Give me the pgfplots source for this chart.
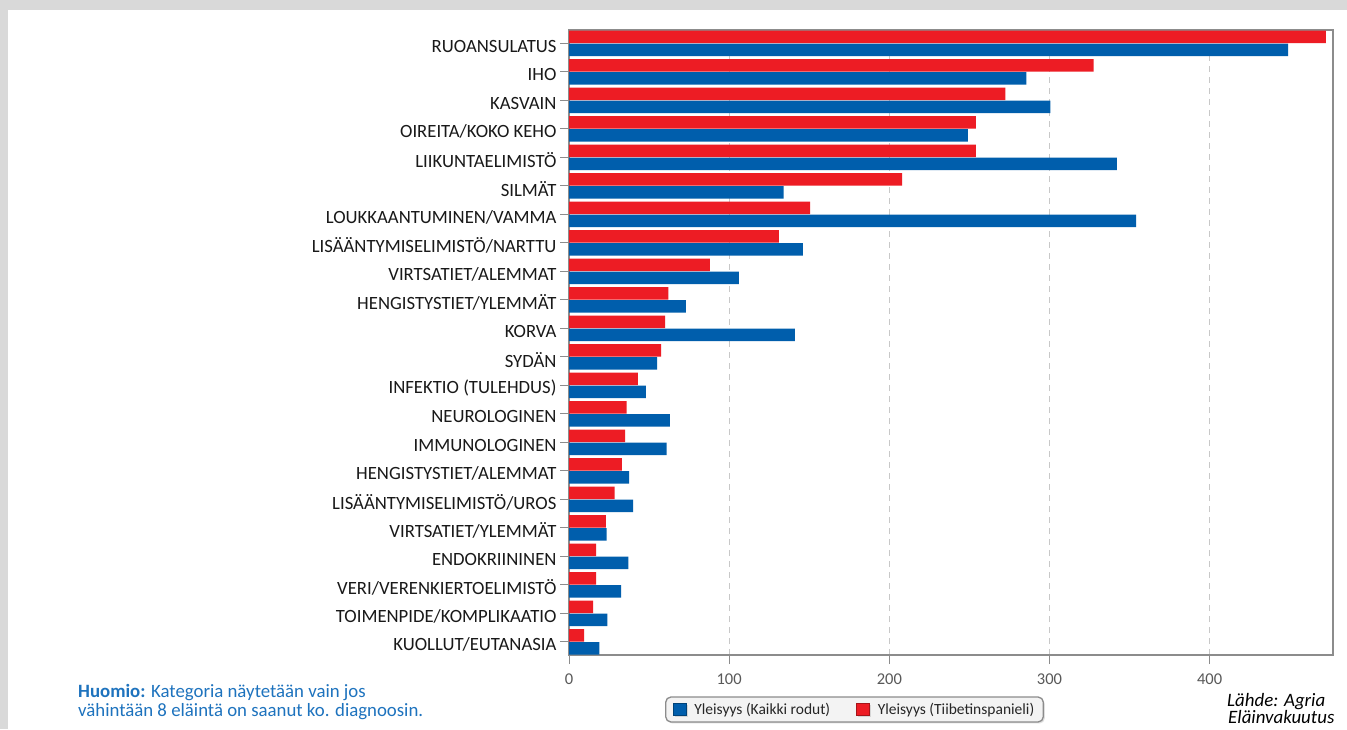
\documentclass[border=0pt]{standalone}
\usepackage{fontspec}
\setmainfont{Carlito}
\usepackage{pgfplots}
\pgfplotsset{compat=1.18}
\usetikzlibrary{shadows}
\definecolor{barblue}{RGB}{0,94,172}
\definecolor{barred}{RGB}{237,28,36}
\definecolor{framegray}{RGB}{217,217,217}
\definecolor{noteblue}{RGB}{30,115,190}
\definecolor{axgray}{RGB}{140,140,140}
\definecolor{gridgray}{RGB}{200,200,200}
\definecolor{ticktext}{RGB}{89,89,89}
\definecolor{legfill}{RGB}{243,243,243}

\begin{document}
\begin{tikzpicture}[x=1pt,y=1pt]
\fill[framegray] (0,0) rectangle (1347,729);
\fill[white] (8,0) rectangle (1347,719);
\begin{axis}[
    at={(569pt,74pt)}, anchor=south west,
    scale only axis, width=764pt, height=625pt,
    xbar, bar width=12.5pt,
    xmin=0, xmax=477,
    ymin=-0.46, ymax=21.47,
    ytick={0,...,21},
    yticklabels={KUOLLUT/EUTANASIA, TOIMENPIDE/KOMPLIKAATIO, VERI/VERENKIERTOELIMISTÖ,
        ENDOKRIININEN, VIRTSATIET/YLEMMÄT, LISÄÄNTYMISELIMISTÖ/UROS,
        HENGISTYSTIET/ALEMMAT, IMMUNOLOGINEN, NEUROLOGINEN, INFEKTIO (TULEHDUS),
        SYDÄN, KORVA, HENGISTYSTIET/YLEMMÄT, VIRTSATIET/ALEMMAT,
        LISÄÄNTYMISELIMISTÖ/NARTTU, LOUKKAANTUMINEN/VAMMA, SILMÄT,
        LIIKUNTAELIMISTÖ, OIREITA/KOKO KEHO, KASVAIN, IHO, RUOANSULATUS},
    xtick={0,100,200,300,400},
    /pgf/number format/assume math mode=true,
    tick align=outside,
    major tick length=9pt,
    every tick/.style={axgray, line width=1pt},
    yticklabel style={font=\fontsize{18.7}{20}\selectfont, text=black!90, yshift=-3pt},
    xticklabel style={font=\fontsize{16.5}{18}\selectfont, text=ticktext, yshift=-6pt},
    xmajorgrids=true,
    major grid style={gridgray, line width=1pt, dash pattern=on 6pt off 5pt},
    axis line style={axgray, line width=1.3pt},
    tick pos=left,
    legend style={at={(0.3737,-0.0872)}, anchor=center, legend columns=2,
        draw=axgray, line width=1.3pt, rounded corners=5pt, fill=legfill,
        inner xsep=7pt, inner ysep=4pt,
        nodes={inner sep=2pt},
        font=\fontsize{15.5}{17}\selectfont, text=black!85,
        drop shadow={opacity=0.25, shadow xshift=1.5pt, shadow yshift=-1.5pt},
        /tikz/every odd column/.append style={column sep=6pt},
        /tikz/every even column/.append style={column sep=24pt}},
]
\addplot[draw=none, fill=barblue, bar shift=-6.5pt,
    legend image code/.code={\draw[sharp corners, fill=barblue, draw=barblue!70!black, line width=0.6pt] (0pt,-6pt) rectangle (13pt,6pt);}]
coordinates {
    (19,0) (24,1) (32.5,2) (37,3) (23.5,4) (40,5) (37.5,6) (61,7) (63,8) (48,9)
    (55,10) (141,11) (73,12) (106,13) (146,14) (354,15) (134,16) (342,17)
    (249,18) (300.6,19) (285.6,20) (449,21)
};
\addlegendentry{Yleisyys (Kaikki rodut)}
\addplot[draw=none, fill=barred, bar shift=6.5pt,
    legend image code/.code={\draw[sharp corners, fill=barred, draw=barred!70!black, line width=0.6pt] (0pt,-6pt) rectangle (13pt,6pt);}]
coordinates {
    (9.5,0) (15,1) (17,2) (17,3) (23,4) (28.5,5) (33,6) (35,7) (36,8) (43,9)
    (57.5,10) (60,11) (62,12) (88,13) (131,14) (150.6,15) (208,16) (254,17)
    (254,18) (272.5,19) (327.5,20) (472.5,21)
};
\addlegendentry{Yleisyys (Tiibetinspanieli)}
\end{axis}
\node[anchor=base west, text=noteblue, font=\fontsize{18.8}{20}\selectfont, inner sep=0pt]
    at (78,32) {\textbf{Huomio:} Kategoria näytetään vain jos};
\node[anchor=base west, text=noteblue, font=\fontsize{18.8}{20}\selectfont, inner sep=0pt]
    at (78,13) {vähintään 8 eläintä on saanut ko. diagnoosin.};
\node[anchor=base west, font=\fontsize{18.9}{20}\itshape, inner sep=0pt]
    at (1227,23) {Lähde: Agria};
\node[anchor=base west, font=\fontsize{18.9}{20}\itshape, inner sep=0pt]
    at (1228,6) {Eläinvakuutus};
\end{tikzpicture}
\end{document}
